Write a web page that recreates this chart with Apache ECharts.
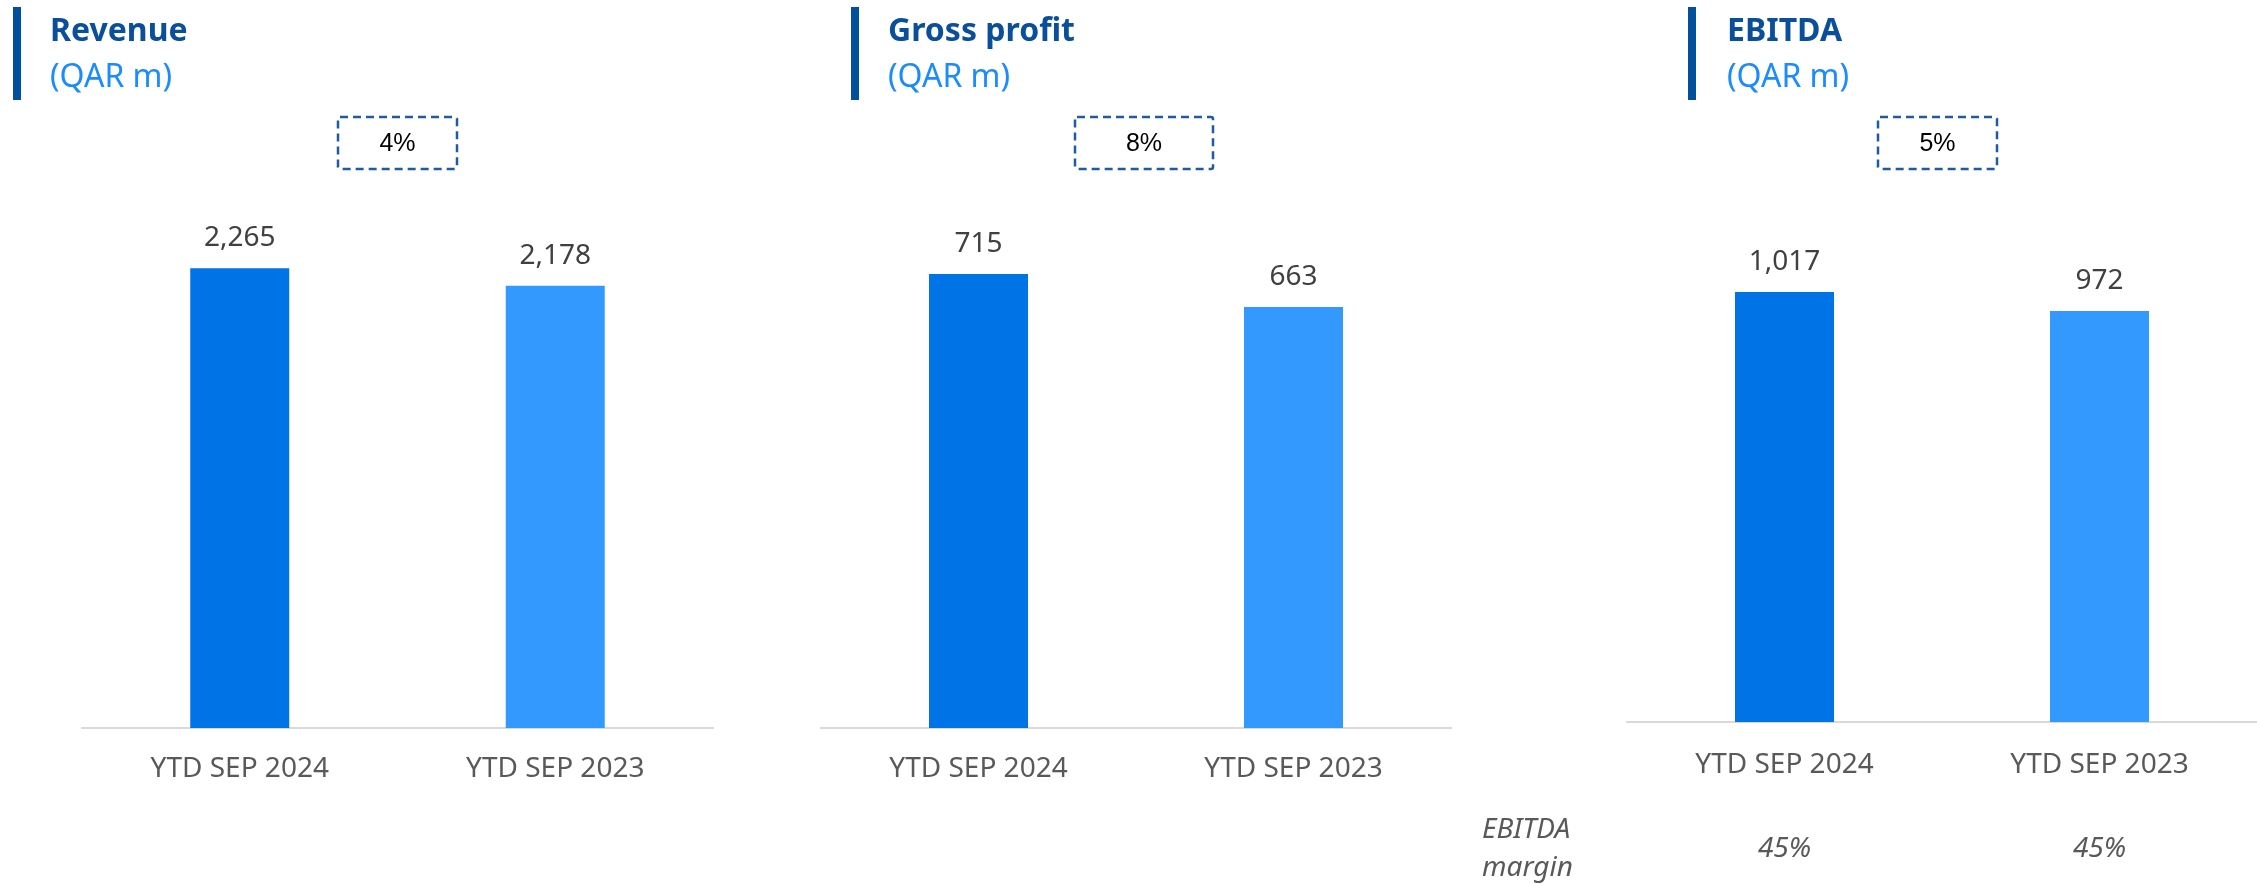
<!DOCTYPE html>
<html>
<head>
<meta charset="utf-8">
<script src="https://cdn.jsdelivr.net/npm/echarts@6/dist/echarts.min.js"></script>
<style>
  html, body { margin: 0; padding: 0; background: #fff; }
  #main { width: 2257px; height: 884px; }
</style>
</head>
<body>
<div id="main"></div>
<script>
  // data
  var categories = ['YTD SEP 2024', 'YTD SEP 2023'];
  var revenue = [2265, 2178];
  var grossProfit = [715, 663];
  var ebitda = [1017, 972];
  var ebitdaMargin = [45, 45];
  var growth = [4, 8, 5];
  var panelTitles = ['Revenue', 'Gross profit', 'EBITDA'];
  var unitText = '(QAR m)';

  var barColors = ['#0073E6', '#3399FF'];
  var font = 'Noto Sans';

  // layout of the three panels
  var panels = [
    { values: revenue,     max: 3000, grid: { left: 82,   width: 631, top: 119, bottom: 156 }, accentX: 13,   textX: 50,   box: [338, 117, 119, 52] },
    { values: grossProfit, max: 1000, grid: { left: 821,  width: 630, top: 93,  bottom: 156 }, accentX: 851,  textX: 888,  box: [1075, 117, 138, 52] },
    { values: ebitda,      max: 1400, grid: { left: 1627, width: 630, top: 130, bottom: 162 }, accentX: 1688, textX: 1727, box: [1878, 117, 119, 52] }
  ];

  var grids = [], xAxes = [], yAxes = [], series = [], graphics = [];

  panels.forEach(function (p, i) {
    grids.push(p.grid);

    var axisLabel = {
      fontSize: 28,
      color: '#595959',
      fontFamily: font,
      margin: 27
    };
    if (i == 2) {
      // EBITDA margin row under the category labels
      axisLabel = {
        margin: 1,
        formatter: function (v, idx) {
          return '{a|' + v + '}\n{m|' + ebitdaMargin[idx] + '%}';
        },
        rich: {
          a: { fontSize: 28, color: '#595959', fontFamily: font, lineHeight: 84 },
          m: { fontSize: 28, color: '#595959', fontFamily: font, fontStyle: 'italic', lineHeight: 84 }
        }
      };
    }

    xAxes.push({
      type: 'category',
      gridIndex: i,
      data: categories,
      axisTick: { show: false },
      axisLine: { lineStyle: { color: '#D9D9D9', width: 2 } },
      axisLabel: axisLabel
    });
    yAxes.push({
      type: 'value',
      gridIndex: i,
      min: 0,
      max: p.max,
      show: false,
      splitLine: { show: false }
    });
    series.push({
      type: 'bar',
      xAxisIndex: i,
      yAxisIndex: i,
      barWidth: 99,
      data: p.values.map(function (v, k) {
        return { value: v, itemStyle: { color: barColors[k] } };
      }),
      label: {
        show: true,
        position: 'top',
        distance: 16,
        fontSize: 28,
        fontFamily: font,
        color: '#404040',
        formatter: function (d) {
          return d.value.toLocaleString('en-US');
        }
      }
    });

    // title block
    graphics.push({
      type: 'rect',
      shape: { x: p.accentX, y: 7, width: 8, height: 93 },
      style: { fill: '#00509E' }
    });
    graphics.push({
      type: 'text',
      x: p.textX, y: 32,
      style: {
        text: panelTitles[i],
        fontSize: 32, fontWeight: 'bold', fontFamily: font,
        fill: '#0A4F9C', textVerticalAlign: 'middle'
      }
    });
    graphics.push({
      type: 'text',
      x: p.textX, y: 78,
      style: {
        text: unitText,
        fontSize: 32, fontFamily: font,
        fill: '#1A8CFF', textVerticalAlign: 'middle'
      }
    });

    // dashed growth box
    var b = p.box;
    graphics.push({
      type: 'rect',
      shape: { x: b[0], y: b[1], width: b[2], height: b[3], r: 2 },
      style: { fill: 'none', stroke: '#1F5AA6', lineWidth: 2.5, lineDash: [8, 5] }
    });
    graphics.push({
      type: 'text',
      x: b[0] + b[2] / 2, y: b[1] + b[3] / 2 + 1,
      style: {
        text: growth[i] + '%',
        fontSize: 25, fontFamily: 'Liberation Sans',
        fill: '#000', textAlign: 'center', textVerticalAlign: 'middle'
      }
    });
  });

  graphics.push({
    type: 'text',
    x: 1482, y: 811,
    style: {
      text: 'EBITDA\nmargin',
      fontSize: 28, fontStyle: 'italic', fontFamily: font,
      lineHeight: 38, fill: '#595959', textVerticalAlign: 'top'
    }
  });

  var chart = echarts.init(document.getElementById('main'));
  chart.setOption({
    animation: false,
    backgroundColor: '#fff',
    grid: grids,
    xAxis: xAxes,
    yAxis: yAxes,
    series: series,
    graphic: graphics
  });
</script>
</body>
</html>
